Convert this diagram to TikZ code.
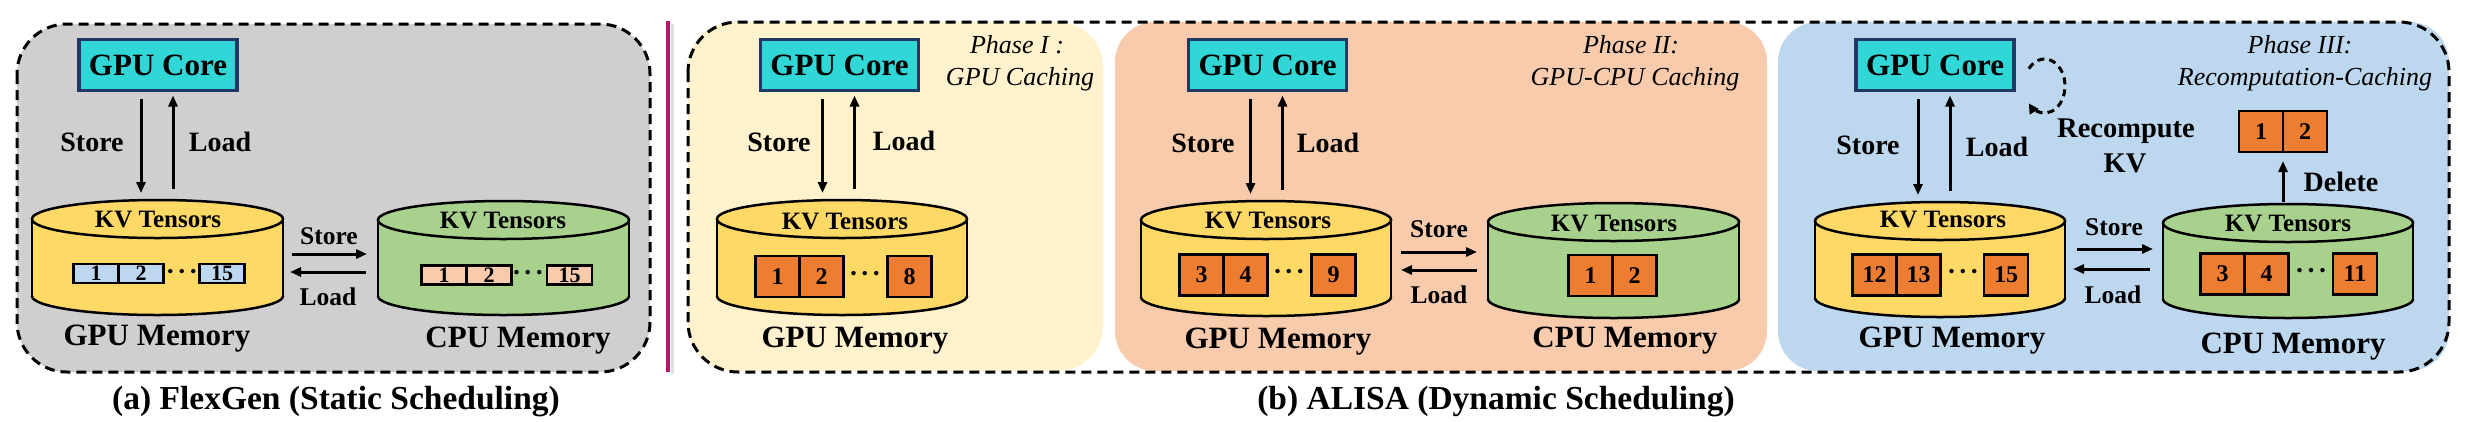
\documentclass[tikz,border=0pt]{standalone}
\usepackage{fontspec}
\setmainfont{Liberation Serif}
\usetikzlibrary{arrows.meta}
\definecolor{panelgray}{HTML}{D0CECE}
\definecolor{phA}{HTML}{FFF2CC}
\definecolor{phB}{HTML}{F8CBAD}
\definecolor{phC}{HTML}{BDD7EE}
\definecolor{gpuy}{HTML}{FFD966}
\definecolor{cpug}{HTML}{A9D18E}
\definecolor{orng}{HTML}{ED7D31}
\definecolor{lblue}{HTML}{BDD7EE}
\definecolor{peach}{HTML}{F8CBAD}
\definecolor{corefill}{HTML}{31D6D6}
\definecolor{coreborder}{HTML}{1F3864}
\definecolor{magline}{HTML}{B5176E}
\newcommand\tdots{\textbf{\char"00B7\kern2.5pt\char"00B7\kern2.5pt\char"00B7}}
\tikzset{
  every node/.style={inner sep=0pt, outer sep=0pt},
  lbl/.style={font=\fontsize{28}{32}\selectfont\bfseries, anchor=base},
  rlbl/.style={font=\fontsize{28.5}{32}\selectfont\bfseries, anchor=base},
  slbl/.style={font=\fontsize{25.5}{30}\selectfont\bfseries, anchor=base},
  kv/.style={font=\fontsize{25}{30}\selectfont\bfseries, anchor=base},
  mem/.style={font=\fontsize{31}{36}\selectfont\bfseries, anchor=base},
  captxt/.style={font=\fontsize{33.5}{38}\selectfont\bfseries, anchor=base},
  phase/.style={font=\fontsize{26}{32}\selectfont\itshape, anchor=base},
  core/.style={draw=coreborder, line width=3.5pt, fill=corefill, minimum width=158pt, minimum height=51pt, font=\fontsize{31}{36}\selectfont\bfseries},
  sblk/.style={draw, line width=2.5pt, minimum width=45pt, minimum height=19pt, font=\fontsize{22}{24}\selectfont\bfseries},
  oblk/.style={draw, line width=2.5pt, fill=orng, minimum width=44pt, minimum height=41pt, font=\fontsize{24}{26}\selectfont\bfseries},
  arr/.style={line width=3pt, -{Triangle[length=11pt,width=9pt]}},
  dotsn/.style={font=\fontsize{27}{28}\selectfont, anchor=base},
  cylline/.style={line width=2.5pt},
  dsh/.style={line width=3pt, dash pattern=on 10pt off 6pt},
  loopline/.style={line width=3pt, dash pattern=on 7pt off 5pt, -{Triangle[length=10pt,width=10pt]}},
}
\newcommand\drawcyl[6]{%
  \fill[#6] (#2,#4+19) rectangle (#3,#5-19);
  \begin{scope}
    \clip (#2-6,#5-19) rectangle (#3+6,#5+6);
    \filldraw[fill=#6, cylline] ({(#2+#3)/2},#5-19) ellipse [x radius={(#3-#2)/2}, y radius=19];
  \end{scope}
  \draw[cylline] (#2,#4+19) -- (#2,#5-19) (#3,#4+19) -- (#3,#5-19);
  \filldraw[fill=#6, cylline] ({(#2+#3)/2},#4+19) ellipse [x radius={(#3-#2)/2}, y radius=19];
  \coordinate (#1) at ({(#2+#3)/2},{(#4+#5)/2});
  \coordinate (#1N) at ({(#2+#3)/2},#4);
  \coordinate (#1E) at (#3,{(#4+#5)/2});
  \coordinate (#1W) at (#2,{(#4+#5)/2});
}
\newcommand\vpair[2]{%
  \draw[arr, shorten <=8pt, shorten >=7pt] ([xshift=-17pt]#1.south) -- ([xshift=-17pt]#1.south |- #2N);
  \draw[arr, shorten <=11pt, shorten >=5pt] ([xshift=15pt]#1.south |- #2N) -- ([xshift=15pt]#1.south);
}
\begin{document}
\begin{tikzpicture}[x=1pt,y=-1pt]
\useasboundingbox (0,0) rectangle (2472,421);
% ---------- panel (a)
\draw[dsh, fill=panelgray, rounded corners=50pt] (17,24) rectangle (650,372);
% ---------- panel (b) backgrounds
\fill[phA, rounded corners=45pt] (688,22) rectangle (1103,371);
\fill[phB, rounded corners=40pt] (1115,22) rectangle (1767,371);
\fill[phC, rounded corners=40pt] (1778,22) rectangle (2449,371);
\draw[dsh, rounded corners=50pt] (688,22) rectangle (2449,372);
% separator
\draw[line width=3pt, black!12] (672,24) -- (672,374);
\draw[line width=4pt, magline] (668,21) -- (668,372);

% ================= (a) FlexGen
\node[core] (ca) at (158,65) {GPU Core};
\drawcyl{ga}{32}{283}{200}{315}{gpuy}
\drawcyl{pa}{378}{629}{201}{315}{cpug}
\vpair{ca}{ga}
\node[lbl] (saL) at (92,151) {Store};
\node[lbl] (laL) at (220,151) {Load};
\node[kv] (kvga) at (158,227) {KV Tensors};
\node[sblk, fill=lblue] (a1) at (96,273.5) {1};
\node[sblk, fill=lblue, anchor=west] (a2) at (a1.east) {2};
\node[dotsn] (adots) at (182,280) {\tdots};
\node[sblk, fill=lblue] (a15) at (222,273.5) {15};
\node[kv] (kvpa) at (503,228) {KV Tensors};
\node[sblk, fill=peach] (b1) at (444,275) {1};
\node[sblk, fill=peach, anchor=west] (b2) at (b1.east) {2};
\node[dotsn] (bdots) at (528,281) {\tdots};
\node[sblk, fill=peach] (b15) at (569.5,275) {15};
\draw[arr, shorten <=9pt, shorten >=11pt] ([yshift=3.5pt]gaE) -- ([yshift=3.5pt]gaE -| paW);
\draw[arr, shorten <=12pt, shorten >=7pt] ([yshift=-14.5pt]gaE -| paW) -- ([yshift=-14.5pt]gaE);
\node[slbl] (sa2) at (329,244) {Store};
\node[slbl] (la2) at (328,305) {Load};
\node[mem] (gma) at (157,345) {GPU Memory};
\node[mem] (cma) at (518,347) {CPU Memory};
\node[captxt] (capa) at (336,409) {(a) FlexGen (Static Scheduling)};

% ================= Phase I
\node[core] (cb) at (839.5,65) {GPU Core};
\drawcyl{gb}{717}{967}{200}{315}{gpuy}
\vpair{cb}{gb}
\node[lbl] (sbL) at (779,151) {Store};
\node[lbl] (lbL) at (904,150) {Load};
\node[kv] (kvgb) at (845,229) {KV Tensors};
\node[oblk] (c1) at (777.5,276.5) {1};
\node[oblk, anchor=west] (c2) at (c1.east) {2};
\node[dotsn] (cdots) at (865,282) {\tdots};
\node[oblk] (c8) at (909.5,276.5) {8};
\node[mem] (gmb) at (855,347) {GPU Memory};
\node[phase] (pb1) at (1017,53) {Phase I :};
\node[phase] (pb2) at (1020,85) {GPU Caching};

% ================= Phase II
\node[core] (cc) at (1267.5,65) {GPU Core};
\drawcyl{gc}{1141}{1391}{201}{316}{gpuy}
\drawcyl{pc}{1488}{1739}{203}{318}{cpug}
\vpair{cc}{gc}
\node[lbl] (scL) at (1203,152) {Store};
\node[lbl] (lcL) at (1328,152) {Load};
\node[kv] (kvgc) at (1268,228) {KV Tensors};
\node[oblk] (d3) at (1201.5,275) {3};
\node[oblk, anchor=west] (d4) at (d3.east) {4};
\node[dotsn] (ddots) at (1289,280) {\tdots};
\node[oblk] (d9) at (1333.5,275) {9};
\node[kv] (kvpc) at (1614,231) {KV Tensors};
\node[oblk] (e1) at (1590.5,275.5) {1};
\node[oblk, anchor=west] (e2) at (e1.east) {2};
\draw[arr, shorten <=10pt, shorten >=11pt] ([yshift=6.5pt]gcE) -- ([yshift=6.5pt]gcE -| pcW);
\draw[arr, shorten <=11pt, shorten >=10pt] ([yshift=-11.5pt]gcE -| pcW) -- ([yshift=-11.5pt]gcE);
\node[slbl] (sc2) at (1439,237) {Store};
\node[slbl] (lc2) at (1439,303) {Load};
\node[mem] (gmc) at (1278,348) {GPU Memory};
\node[mem] (cmc) at (1625,347) {CPU Memory};
\node[phase] (pc1) at (1631,53) {Phase II:};
\node[phase] (pc2) at (1635,85) {GPU-CPU Caching};
\node[captxt] (capb) at (1496,409) {(b) ALISA (Dynamic Scheduling)};

% ================= Phase III
\node[core] (cd) at (1935,65) {GPU Core};
\drawcyl{gd}{1815}{2065}{202}{317}{gpuy}
\drawcyl{pd}{2163}{2413}{204}{318}{cpug}
\vpair{cd}{gd}
\node[lbl] (sdL) at (1868,154) {Store};
\node[lbl] (ldL) at (1997,156) {Load};
\coordinate (lp) at ([xshift=30.5pt, yshift=-21pt]cd.east);
\draw[loopline] ([shift={(140:20.5pt and 27pt)}]lp) arc[start angle=140, end angle=-140, x radius=20.5pt, y radius=27pt];
\node[rlbl] (rc1) at (2126,137) {Recompute};
\node[rlbl] (rc2) at (2125,172) {KV};
\node[kv] (kvgd) at (1943,227) {KV Tensors};
\node[oblk] (f12) at (1874.5,275) {12};
\node[oblk, anchor=west] (f13) at (f12.east) {13};
\node[dotsn] (fdots) at (1963,280) {\tdots};
\node[oblk] (f15) at (2006,275) {15};
\node[kv] (kvpd) at (2288,231) {KV Tensors};
\node[oblk] (h3) at (2222.5,274) {3};
\node[oblk, anchor=west] (h4) at (h3.east) {4};
\node[dotsn] (hdots) at (2311,279) {\tdots};
\node[oblk] (h11) at (2355,274) {11};
\node[oblk] (x1) at (2261,131.5) {1};
\node[oblk, anchor=west] (x2) at (x1.east) {2};
\draw[arr, shorten <=2pt, shorten >=9pt] (x1.south east |- pdN) -- (x1.south east);
\node[lbl] (dl) at (2341,191) {Delete};
\draw[arr, shorten <=12pt, shorten >=10pt] ([yshift=10.5pt]gdE) -- ([yshift=10.5pt]gdE -| pdW);
\draw[arr, shorten <=13pt, shorten >=8pt] ([yshift=-9.5pt]gdE -| pdW) -- ([yshift=-9.5pt]gdE);
\node[slbl] (sd2) at (2114,235) {Store};
\node[slbl] (ld2) at (2113,303) {Load};
\node[mem] (gmd) at (1952,347) {GPU Memory};
\node[mem] (cmd) at (2293,353) {CPU Memory};
\node[phase] (pd1) at (2300,53) {Phase III:};
\node[phase] (pd2) at (2305,85) {Recomputation-Caching};
\end{tikzpicture}
\end{document}
